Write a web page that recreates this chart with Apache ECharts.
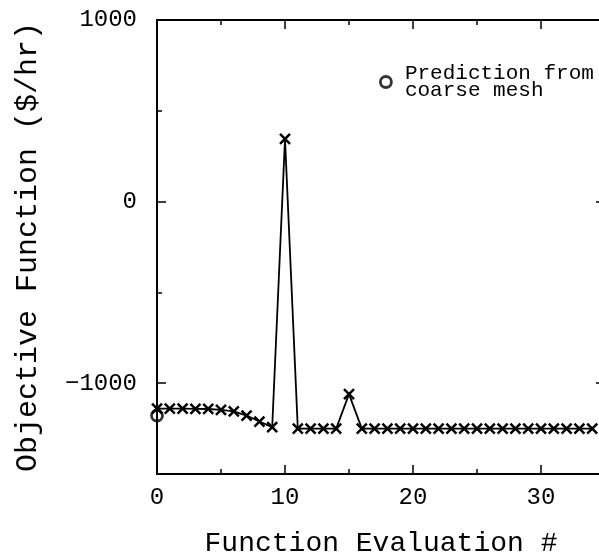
<!DOCTYPE html>
<html>
<head>
<meta charset="utf-8">
<script src="https://cdn.jsdelivr.net/npm/echarts@6/dist/echarts.min.js"></script>
<style>html,body{margin:0;padding:0;background:#fff;}#c{width:599px;height:558px;}</style>
</head>
<body>
<div id="c"></div>
<script>
const evaluations = [0,1,2,3,4,5,6,7,8,9,10,11,12,13,14,15,16,17,18,19,20,21,22,23,24,25,26,27,28,29,30,31,32,33,34];
const objective = [-1140,-1140,-1140,-1141,-1142,-1147,-1155,-1178,-1211,-1242,345,-1250,-1250,-1250,-1250,-1060,-1250,-1250,-1250,-1250,-1250,-1250,-1250,-1250,-1250,-1250,-1250,-1250,-1250,-1250,-1250,-1250,-1250,-1250,-1250];
const predictionX = [0];
const predictionY = [-1178];
const xMajorTicks = [0,10,20,30];
const xMinorTicks = [5,15,25];
const yMajorTicks = [-1000,0,1000];
const yMinorTicks = [-500,500];
const xTitle = 'Function Evaluation #';
const yTitle = 'Objective Function ($/hr)';
const legendName = 'Prediction from\ncoarse mesh';

const FONT = 'Liberation Mono';
const BLACK = '#000';

function fmt(v){ return v < 0 ? '\u2212' + Math.abs(v) : String(v); }

function xAxisDef(pos, major, showLabels, withName){
  return {
    type:'value', min:0, max:35, position:pos, gridIndex:0,
    axisLine:{show:major, onZero:false, lineStyle:{color:BLACK,width:2}},
    axisTick:{show:true, inside:true, length: major?9:5, customValues: major?xMajorTicks:xMinorTicks, lineStyle:{color:BLACK,width:1.5}},
    axisLabel:{show:showLabels, customValues:xMajorTicks, fontFamily:FONT, fontSize:24, color:BLACK, margin:12, formatter:fmt},
    splitLine:{show:false},
    name: withName ? xTitle : '',
    nameLocation:'middle', nameGap:56,
    nameTextStyle:{fontFamily:FONT, fontSize:28, color:BLACK}
  };
}
function yAxisDef(pos, major, showLabels, withName){
  return {
    type:'value', min:-1500, max:1000, position:pos, gridIndex:0,
    axisLine:{show:major, onZero:false, lineStyle:{color:BLACK,width:2}},
    axisTick:{show:true, inside:true, length: major?9:5, customValues: major?yMajorTicks:yMinorTicks, lineStyle:{color:BLACK,width:1.5}},
    axisLabel:{show:showLabels, customValues:yMajorTicks, fontFamily:FONT, fontSize:24, color:BLACK, margin:20, formatter:fmt},
    splitLine:{show:false},
    name: withName ? yTitle : '',
    nameLocation:'middle', nameGap:114,
    nameTextStyle:{fontFamily:FONT, fontSize:30, color:BLACK}
  };
}

const chart = echarts.init(document.getElementById('c'), null, {renderer:'canvas'});
chart.setOption({
  animation:false,
  backgroundColor:'#fff',
  grid:{left:157, top:20, width:448, height:454, containLabel:false, outerBoundsMode:'none'},
  xAxis:[
    xAxisDef('bottom', true, true, true),
    xAxisDef('bottom', false, false, false),
    xAxisDef('top', true, false, false),
    xAxisDef('top', false, false, false)
  ],
  yAxis:[
    yAxisDef('left', true, true, true),
    yAxisDef('left', false, false, false),
    yAxisDef('right', true, false, false),
    yAxisDef('right', false, false, false)
  ],
  legend:{
    data:[{name:legendName, icon:'circle'}],
    left:374, top:58, orient:'vertical',
    itemWidth:26, itemHeight:11,
    itemStyle:{color:'transparent', borderColor:BLACK, borderWidth:2.8},
    textStyle:{fontFamily:FONT, fontSize:21, color:BLACK, lineHeight:17, padding:[0,0,0,1]}
  },
  series:[
    {
      type:'line', name:'objective',
      xAxisIndex:0, yAxisIndex:0,
      clip:false,
      data: evaluations.map((x,i)=>[x, objective[i]]),
      symbol:'path://M0,0L10,10M10,0L0,10', symbolSize:10,
      showAllSymbol:true,
      lineStyle:{color:BLACK, width:1.8},
      itemStyle:{color:'none', borderColor:BLACK, borderWidth:2.5},
      z:3
    },
    {
      type:'scatter', name:legendName,
      xAxisIndex:0, yAxisIndex:0,
      clip:false,
      data: predictionX.map((x,i)=>[x, predictionY[i]]),
      symbol:'circle', symbolSize:11,
      itemStyle:{color:'transparent', borderColor:BLACK, borderWidth:2.8},
      z:4
    }
  ]
});
</script>
</body>
</html>
